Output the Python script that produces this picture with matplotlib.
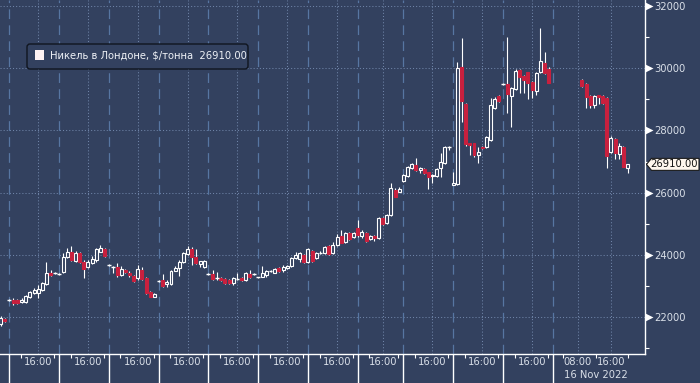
import matplotlib
matplotlib.use("Agg")
import matplotlib.pyplot as plt
import matplotlib.transforms as mtransforms
from matplotlib.patches import FancyBboxPatch, Rectangle, Polygon
import numpy as np

plt.rcParams['font.family'] = ['DejaVu Sans']
plt.rcParams['lines.scale_dashes'] = False

BG = '#33415f'
RED = '#c8203e'
TXT = '#d9dfe8'

# ---- data: bar slots on the compressed intraday axis ----
slots = list(range(0, 133)) + list(range(140, 152))
opens = [21790, 21950, 22560, 22560, 22560, 22490, 22490, 22650, 22780, 22780,
         22880, 23070, 23420, 23420, 23390, 23460, 23940, 24100, 23810, 24070,
         23780, 23620, 23740, 23840, 24100, 24190, 23680, 23620, 23620, 23360,
         23520, 23420, 23330, 23260, 23520, 23260, 22810, 22650, 23170, 23200,
         23070, 23070, 23490, 23580, 23780, 24030, 24190, 23940, 23710, 23620,
         23390, 23390, 23260, 23260, 23230, 23200, 23100, 23230, 23260, 23200,
         23390, 23390, 23290, 23290, 23360, 23490, 23420, 23580, 23520, 23580,
         23650, 23900, 23870, 24000, 23780, 24130, 23900, 24070, 24070, 24290,
         24070, 24320, 24610, 24420, 24710, 24580, 24870, 24610, 24710, 24520,
         24610, 24550, 25190, 25030, 25280, 26090, 26020, 26380, 26540, 26790,
         26890, 26730, 26760, 26660, 26540, 26540, 26790, 26950, 27470, 26250,
         26280, 30040, 28850, 27600, 27600, 27210, 27470, 27470, 27690, 28720,
         29100, 29490, 29490, 29100, 29330, 29940, 29750, 29870, 29550, 29260,
         29870, 30160, 29970,
         29620, 29490, 29100, 28820, 29140, 29100, 29040, 27310, 27720, 27240,
         27470, 26790]
highs = [22040, 21980, 22590, 22620, 22590, 22620, 22720, 22850, 22940, 23040,
         23130, 23780, 23520, 23440, 23410, 24070, 24230, 24290, 24130, 24100,
         23840, 23840, 23970, 24230, 24320, 24230, 23700, 23650, 23740, 23650,
         23550, 23490, 23360, 23680, 23620, 23290, 22850, 22780, 23200, 23390,
         23200, 23520, 23650, 23840, 24100, 24290, 24260, 24190, 23810, 23840,
         23410, 23520, 23460, 23290, 23260, 23230, 23290, 23420, 23290, 23460,
         23520, 23420, 23310, 23650, 23520, 23520, 23580, 23620, 23680, 23680,
         23940, 24100, 24100, 24030, 24230, 24160, 24100, 24130, 24290, 24320,
         24420, 24680, 24800, 24740, 24740, 24740, 25120, 24800, 24740, 24640,
         24640, 25220, 25220, 25320, 26310, 26150, 26180, 26600, 26860, 26950,
         27110, 26830, 26790, 26660, 26600, 26790, 27280, 27500, 27500, 26670,
         30200, 30970, 28880, 27600, 27600, 27470, 27500, 27820, 29040, 29070,
         29140, 29510, 31000, 29390, 29970, 29970, 29780, 29870, 29590, 29870,
         31290, 30520, 30030,
         29650, 29520, 29140, 29140, 29140, 29140, 29070, 27820, 27760, 27600,
         27500, 26920]
lows = [21720, 21860, 22520, 22400, 22430, 22460, 22460, 22620, 22750, 22620,
        22850, 23040, 23330, 23400, 23370, 23420, 23900, 23810, 23780, 23740,
        23260, 23580, 23710, 23780, 24100, 23940, 23660, 23420, 23290, 23330,
        23420, 23290, 23130, 23200, 23200, 22750, 22650, 22650, 23130, 22970,
        22970, 23040, 23490, 23330, 23740, 24000, 23680, 23710, 23620, 23580,
        23370, 23200, 23200, 23170, 23070, 23070, 23040, 23200, 23170, 23170,
        23260, 23360, 23270, 23290, 23290, 23460, 23420, 23460, 23460, 23550,
        23620, 23870, 23780, 23740, 23740, 23780, 23870, 24030, 24030, 24000,
        24030, 24290, 24390, 24390, 24480, 24550, 24580, 24550, 24420, 24480,
        24450, 24520, 24960, 25000, 25250, 25860, 26020, 26340, 26500, 26760,
        26700, 26630, 26600, 26120, 26310, 26500, 26500, 26920, 27370, 26250,
        26250, 28270, 27500, 27210, 27150, 26950, 27400, 27430, 27660, 28690,
        28910, 29470, 28560, 28110, 29300, 29200, 29200, 29010, 29040, 29140,
        29840, 29810, 29520,
        29390, 28720, 28720, 28720, 28850, 28850, 26790, 27280, 27080, 27080,
        26830, 26630]
closes = [21980, 21880, 22560, 22460, 22460, 22560, 22680, 22810, 22880, 22910,
          23100, 23420, 23360, 23420, 23390, 23940, 24100, 23840, 24070, 23780,
          23550, 23780, 23870, 24190, 24230, 23970, 23680, 23620, 23360, 23550,
          23460, 23360, 23170, 23550, 23230, 22780, 22650, 22750, 23170, 23010,
          23130, 23490, 23580, 23780, 24070, 24190, 23940, 23740, 23810, 23810,
          23390, 23230, 23260, 23200, 23100, 23100, 23260, 23230, 23200, 23420,
          23290, 23390, 23290, 23420, 23490, 23490, 23550, 23490, 23620, 23650,
          23900, 24000, 24070, 23780, 24190, 23810, 24070, 24070, 24260, 24030,
          24320, 24580, 24390, 24710, 24520, 24710, 24640, 24740, 24450, 24610,
          24550, 25190, 25000, 25280, 26150, 25860, 26120, 26570, 26830, 26920,
          26730, 26790, 26630, 26500, 26570, 26760, 26990, 27470, 27470, 26310,
          30000, 28940, 27560, 27530, 27210, 27310, 27430, 27790, 28820, 29010,
          28940, 29490, 29170, 29360, 29910, 29710, 29620, 29520, 29300, 29840,
          30230, 29840, 29520,
          29420, 29070, 28820, 29100, 29070, 28880, 27180, 27760, 27280, 27500,
          26830, 26910]

day_starts = [2, 14, 26, 38, 50, 62, 74, 86, 97, 109, 121, 133]
small_ticks = [4.8, 12.8, 16.8, 24.8, 28.8, 36.8, 40.8, 48.8, 52.8, 60.8,
               64.8, 72.8, 76.8, 84.8, 88.8, 95.8, 99.8, 107.8, 111.8, 119.8,
               123.8, 131.8, 135.4, 143.4, 151.1]
time_labels = ['16:00'] * 11 + ['08:00', '16:00']
time_label_slots = [9, 21, 33, 45, 57, 69, 81, 92, 104, 116, 128, 139, 147]
date_label = '16 Nov 2022'
date_label_slot = 143.3
legend_label = 'Никель в Лондоне, $/тонна'
yticks = [22000, 24000, 26000, 28000, 30000, 32000]
yminor = [21000, 23000, 25000, 27000, 29000, 31000]
ylim = (20823, 32186)

W, H = 700, 383
fig = plt.figure(figsize=(W / 100, H / 100), dpi=100, facecolor=BG)
ax_l, ax_b, ax_w, ax_h = 0, 29, 645, 354
ax = fig.add_axes([ax_l / W, ax_b / H, ax_w / W, ax_h / H])
ax.set_facecolor(BG)
ax.set_xlim(-0.2, 155.2)
ax.set_ylim(*ylim)

# grid
for y in yticks:
    ax.axhline(y, color='#6f84a8', lw=0.75, ls=(0, (0.75, 1.5)), zorder=1)
for s in day_starts:
    ax.axvline(s, color='#5776a2', lw=0.9, ls=(0, (7, 4.5)), zorder=1)
for s in time_label_slots:
    ax.axvline(s, color='#6f84a8', lw=0.75, ls=(0, (0.75, 1.5)), zorder=1)

# candles
o = np.array(opens, float); c = np.array(closes, float)
h = np.array(highs, float); l = np.array(lows, float)
x = np.array(slots, float)
ax.vlines(x, l, h, color='white', lw=0.8, zorder=3)
up = c > o
dn = c < o
eq = c == o
ax.bar(x[up], (c - o)[up], bottom=o[up], width=0.72, facecolor=BG,
       edgecolor='white', linewidth=0.8, zorder=4)
ax.bar(x[dn], (o - c)[dn], bottom=c[dn], width=0.72, facecolor=RED,
       edgecolor=RED, linewidth=0.8, zorder=4)
ax.hlines(o[eq], x[eq] - 0.45, x[eq] + 0.45, color='white', lw=1.0, zorder=4)

# spines
for side in ['left', 'top']:
    ax.spines[side].set_visible(False)
for side in ['right', 'bottom']:
    ax.spines[side].set_color('white')
    ax.spines[side].set_linewidth(1.0)

# y axis on right
ax.yaxis.tick_right()
ax.set_yticks(yticks)
ax.set_yticklabels([str(v) for v in yticks])
ax.set_yticks(yminor, minor=True)
ax.tick_params(axis='y', which='major', length=0, pad=6.5, labelsize=7.2,
               labelcolor=TXT)
ax.tick_params(axis='y', which='minor', length=3, width=0.8, color='white',
               direction='out')
tri = mtransforms.offset_copy(mtransforms.blended_transform_factory(ax.transAxes, ax.transData),
                              fig=fig, x=3.5, y=0, units='dots')
ax.plot([1.0] * len(yticks), yticks, ls='none', marker='>', ms=5.2, color='white',
        mec='none', transform=tri, clip_on=False, zorder=6)

# x axis
ax.set_xticks(day_starts)
ax.set_xticklabels([])
ax.set_xticks(small_ticks, minor=True)
ax.tick_params(axis='x', which='major', length=23, width=1.0, color='white',
               direction='out')
ax.tick_params(axis='x', which='minor', length=3, width=0.8, color='white',
               direction='out')
bt = mtransforms.blended_transform_factory(ax.transData, ax.transAxes)
for s, t in zip(time_label_slots, time_labels):
    ax.text(s, -8 / ax_h, t, transform=bt, ha='center', va='center',
            fontsize=7.2, color=TXT, clip_on=False)
ax.text(date_label_slot, -20.5 / ax_h, date_label, transform=bt, ha='center',
        va='center', fontsize=7.2, color=TXT, clip_on=False)

# legend box (pixel geometry, drawn in inches)
px = fig.dpi_scale_trans
def P(v):
    return v / 100.0
box = FancyBboxPatch((P(27), P(H - 69)), P(221), P(25),
                     boxstyle='round,pad=0,rounding_size=0.03',
                     facecolor=BG, edgecolor='#10151f', lw=1.0,
                     transform=px, zorder=10)
fig.patches.append(box)
fig.patches.append(Rectangle((P(35), P(H - 60)), P(9), P(10), facecolor='#fff3f3',
                             edgecolor='none', transform=px, zorder=11))
last = closes[-1]
fig.text(P(50), P(H - 56), f'{legend_label}  {last:.2f}', transform=px,
         fontsize=7.2, color='#eef1f6', va='center', ha='left', zorder=12)

# last price tag
frac = (last - ylim[0]) / (ylim[1] - ylim[0])
yp = ax_b + frac * ax_h
tag = Polygon([(P(646.5), P(yp)), (P(651.5), P(yp + 6)), (P(699), P(yp + 6)),
               (P(699), P(yp - 6)), (P(651.5), P(yp - 6))], closed=True,
              facecolor='#fff7ee', edgecolor='#1a1a1a', lw=0.8,
              transform=px, zorder=10)
fig.patches.append(tag)
fig.text(P(674), P(yp), f'{last:.2f}', transform=px, fontsize=7.2,
         color='#111111', ha='center', va='center', zorder=12)

fig.savefig('out.png', dpi=100, facecolor=BG)
